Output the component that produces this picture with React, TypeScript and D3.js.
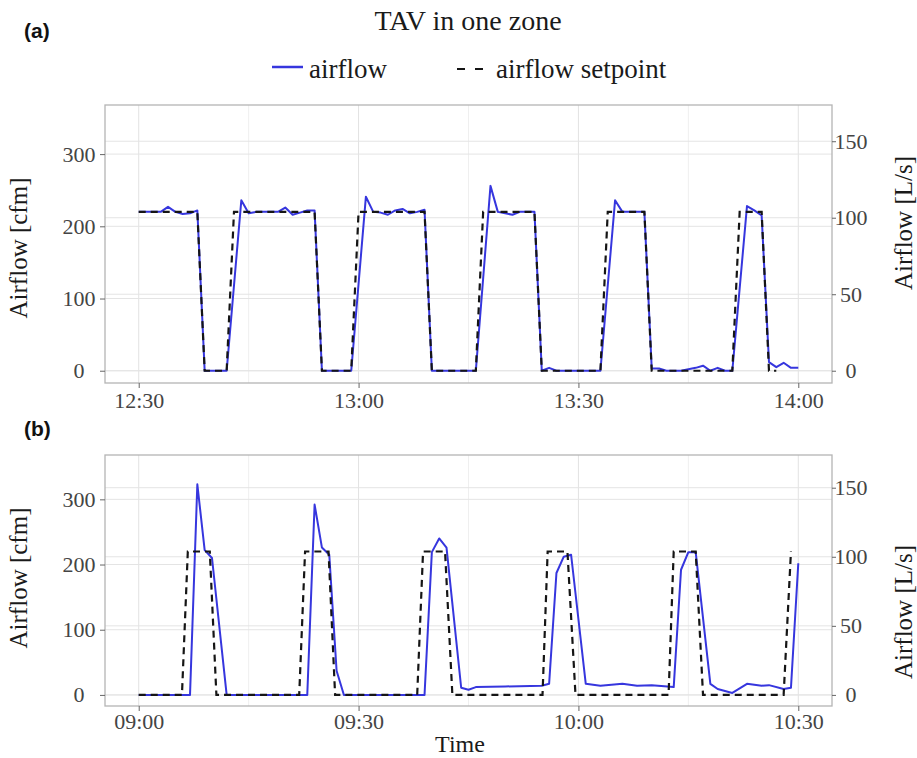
import React, { useRef, useEffect } from "react";
import * as d3 from "d3";

// [minutes after panel start, cfm]
const airflowA: [number, number][] = [
  [0, 220], [3, 220], [4, 227], [5, 220], [6, 217], [7, 218], [8, 222], [9, 0],
  [12, 0], [14, 236], [15, 218], [16, 220], [19, 220], [20, 226], [21, 216],
  [22, 219], [23, 222], [24, 222], [25, 0], [29, 0], [31, 241], [32, 220],
  [33, 219], [34, 216], [35, 222], [36, 224], [37, 218], [38, 220], [39, 223],
  [40, 0], [46, 0], [48, 256], [49, 220], [50, 218], [51, 216], [52, 220],
  [54, 220], [55, 0], [56, 4], [57, 0], [63, 0], [65, 236], [66, 220],
  [69, 220], [70, 3], [71, 3], [72, 0], [74, 0], [75, 2], [76, 4], [77, 7],
  [78, 0], [79, 4], [80, 0], [81, 0], [83, 228], [84, 222], [85, 215],
  [86, 12], [87, 5], [88, 11], [89, 4], [90, 4],
];
const setpointA: [number, number][] = [
  [0, 220], [8, 220], [9, 0], [12, 0], [13, 220], [24, 220], [25, 0], [29, 0],
  [30, 220], [39, 220], [40, 0], [46, 0], [47, 220], [54, 220], [55, 0],
  [63, 0], [64, 220], [69, 220], [70, 0], [81, 0], [82, 220], [85, 220],
  [86, 0], [87, 0],
];
const airflowB: [number, number][] = [
  [0, 0], [7, 0], [8, 323], [9, 222], [10, 210], [12, 0], [23, 0], [24, 292],
  [25, 226], [26, 215], [27, 37], [28, 0], [39, 0], [40, 219], [41, 240],
  [42, 226], [44, 11], [45, 8], [46, 12], [50, 13], [55, 14], [56, 17],
  [57, 187], [58, 212], [59, 215], [61, 17], [63, 14], [66, 17], [68, 14],
  [70, 15], [73, 12], [74, 192], [75, 219], [76, 219], [78, 17], [79, 9],
  [81, 3], [83, 17], [85, 14], [86, 15], [88, 9], [89, 11], [90, 202],
];
const setpointB: [number, number][] = [
  [0, 0], [5.9, 0], [6.7, 220], [9.7, 220], [10.6, 0], [21.9, 0], [22.7, 220],
  [25.9, 220], [26.8, 0], [38, 0], [38.8, 220], [41.8, 220], [42.8, 0],
  [55.1, 0], [55.8, 220], [58.5, 220], [59.6, 0], [72.3, 0], [73, 220],
  [76, 220], [77, 0], [88, 0], [89, 220],
];

const cfmTicks = [0, 100, 200, 300];
const lsTicks = [0, 50, 100, 150];
const CFM_PER_LS = 2.11888;

const serif = "'Liberation Serif', 'DejaVu Serif', serif";
const sans = "'Liberation Sans', Arial, sans-serif";

const addMin = (d: Date, m: number) => new Date(d.getTime() + m * 60000);

function drawPanel(svg: any, o: any) {
  const left = 105;
  const right = 832;
  const x = d3
    .scaleTime()
    .domain([addMin(o.start, -4.6), addMin(o.start, 94.6)])
    .range([left, right]);
  const y = d3.scaleLinear().domain([-17, 368]).range([o.bottom, o.top]);
  const yR = d3
    .scaleLinear()
    .domain([-17 / CFM_PER_LS, 368 / CFM_PER_LS])
    .range([o.bottom, o.top]);

  const g = svg.append("g");

  // grid
  const minor = x.ticks(d3.timeMinute.every(15));
  g.selectAll(".vgrid")
    .data(minor)
    .enter()
    .append("line")
    .attr("x1", (d: Date) => x(d))
    .attr("x2", (d: Date) => x(d))
    .attr("y1", o.top)
    .attr("y2", o.bottom)
    .attr("stroke", (d: Date) => (d.getMinutes() % 30 === 0 ? "#e2e2e2" : "#efefef"))
    .attr("stroke-width", 1);
  g.selectAll(".hgridL")
    .data(cfmTicks)
    .enter()
    .append("line")
    .attr("x1", left)
    .attr("x2", right)
    .attr("y1", (d: number) => y(d))
    .attr("y2", (d: number) => y(d))
    .attr("stroke", "#e4e4e4");
  g.selectAll(".hgridR")
    .data(lsTicks)
    .enter()
    .append("line")
    .attr("x1", left)
    .attr("x2", right)
    .attr("y1", (d: number) => yR(d))
    .attr("y2", (d: number) => yR(d))
    .attr("stroke", "#e4e4e4");

  // lines
  const line = d3
    .line<[number, number]>()
    .x((d) => x(addMin(o.start, d[0])))
    .y((d) => y(d[1]));
  g.append("path")
    .attr("d", line(o.airflow))
    .attr("fill", "none")
    .attr("stroke", "#3636de")
    .attr("stroke-width", 2)
    .attr("stroke-linejoin", "round");
  g.append("path")
    .attr("d", line(o.setpoint))
    .attr("fill", "none")
    .attr("stroke", "#151515")
    .attr("stroke-width", 2.2)
    .attr("stroke-dasharray", "7,5");

  // frame
  g.append("rect")
    .attr("x", left)
    .attr("y", o.top)
    .attr("width", right - left)
    .attr("height", o.bottom - o.top)
    .attr("fill", "none")
    .attr("stroke", "#b4b4b4")
    .attr("stroke-width", 1.3);

  // axes
  const styleAxis = (ax: any) => {
    ax.select(".domain").remove();
    ax.selectAll("line").attr("stroke", "#666");
    ax.selectAll("text")
      .style("font-family", serif)
      .style("font-size", "22px")
      .attr("fill", "#444");
  };
  const yAxis = g
    .append("g")
    .attr("transform", `translate(${left},0)`)
    .call(d3.axisLeft(y).tickValues(cfmTicks).tickSize(5).tickFormat(d3.format("d")));
  styleAxis(yAxis);
  yAxis.selectAll("text").attr("text-anchor", "middle").attr("x", -26);

  const yAxisR = g
    .append("g")
    .attr("transform", `translate(${right},0)`)
    .call(d3.axisRight(yR).tickValues(lsTicks).tickSize(4).tickFormat(d3.format("d")));
  styleAxis(yAxisR);
  yAxisR.selectAll("text").attr("text-anchor", "middle").attr("x", 19);

  const xAxis = g
    .append("g")
    .attr("transform", `translate(0,${o.bottom})`)
    .call(
      d3
        .axisBottom(x)
        .ticks(d3.timeMinute.every(30))
        .tickSize(5)
        .tickFormat(d3.timeFormat("%H:%M") as any)
    );
  styleAxis(xAxis);
  xAxis.selectAll("text").attr("dy", null).attr("y", o.tickBaseline - o.bottom);

  // axis titles
  g.append("text")
    .attr("transform", `translate(27,${o.leftLabelY}) rotate(-90)`)
    .attr("text-anchor", "middle")
    .style("font-family", serif)
    .style("font-size", "25px")
    .attr("fill", "#1a1a1a")
    .text("Airflow [cfm]");
  g.append("text")
    .attr("transform", `translate(912,${o.rightLabelY}) rotate(-90)`)
    .attr("text-anchor", "middle")
    .style("font-family", serif)
    .style("font-size", "25px")
    .attr("fill", "#1a1a1a")
    .text("Airflow [L/s]");

  // panel tag
  g.append("text")
    .attr("x", 24)
    .attr("y", o.tagY)
    .style("font-family", sans)
    .style("font-weight", "bold")
    .style("font-size", "21px")
    .attr("fill", "#111")
    .text(o.tag);
}

const App = () => {
  const container = useRef<SVGSVGElement>(null);
  const width = 917;
  const height = 758;

  useEffect(() => {
    const svg = d3.select(container.current);
    svg.selectAll("*").remove();

    svg.append("rect").attr("width", width).attr("height", height).attr("fill", "#fff");

    // title + legend
    svg.append("text")
      .attr("x", 468)
      .attr("y", 30)
      .attr("text-anchor", "middle")
      .style("font-family", serif)
      .style("font-size", "28px")
      .attr("fill", "#1a1a1a")
      .text("TAV in one zone");
    svg.append("line")
      .attr("x1", 272).attr("x2", 303).attr("y1", 67).attr("y2", 67)
      .attr("stroke", "#3636de").attr("stroke-width", 2.5);
    svg.append("text")
      .attr("x", 309).attr("y", 78)
      .style("font-family", serif).style("font-size", "27px")
      .attr("fill", "#1a1a1a")
      .text("airflow");
    svg.append("line")
      .attr("x1", 457).attr("x2", 483).attr("y1", 69).attr("y2", 69)
      .attr("stroke", "#151515").attr("stroke-width", 2.2)
      .attr("stroke-dasharray", "8,10");
    svg.append("text")
      .attr("x", 496).attr("y", 78)
      .style("font-family", serif).style("font-size", "27px")
      .attr("fill", "#1a1a1a")
      .text("airflow setpoint");

    drawPanel(svg, {
      top: 105, bottom: 383, start: new Date(2020, 0, 1, 12, 30),
      airflow: airflowA, setpoint: setpointA,
      tickBaseline: 408, leftLabelY: 248, rightLabelY: 223, tag: "(a)", tagY: 38,
    });
    drawPanel(svg, {
      top: 455, bottom: 706, start: new Date(2020, 0, 1, 9, 0),
      airflow: airflowB, setpoint: setpointB,
      tickBaseline: 729, leftLabelY: 578, rightLabelY: 612, tag: "(b)", tagY: 436,
    });

    svg.append("text")
      .attr("x", 460).attr("y", 752)
      .attr("text-anchor", "middle")
      .style("font-family", serif).style("font-size", "24px")
      .attr("fill", "#1a1a1a")
      .text("Time");
  }, []);

  return (
    <svg
      ref={container}
      width={width}
      height={height}
      style={{ position: "absolute", left: 0, top: 0, display: "block" }}
    />
  );
};

export default App;
